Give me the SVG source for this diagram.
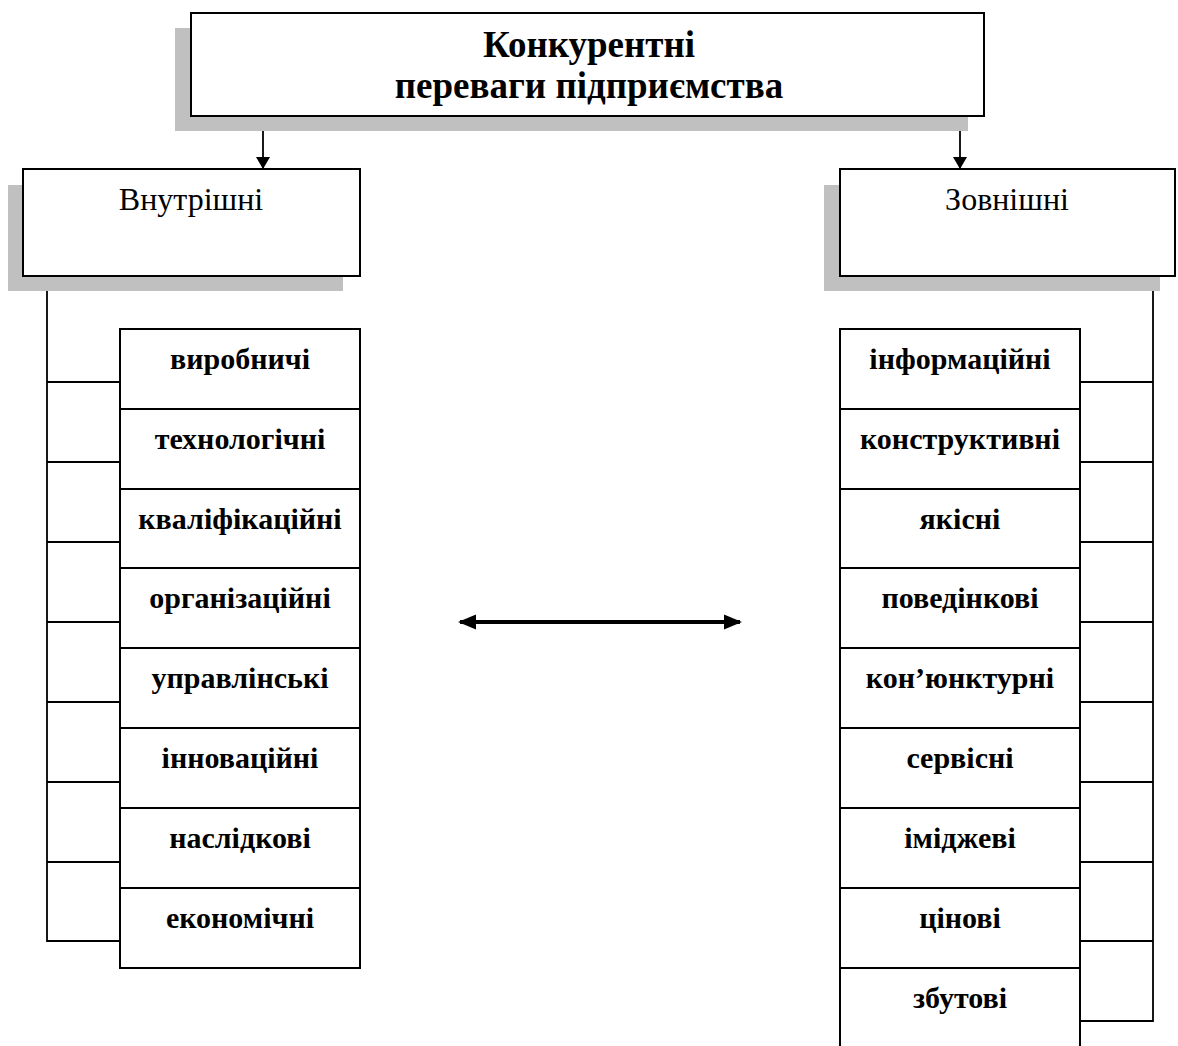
<svg xmlns="http://www.w3.org/2000/svg" width="1178" height="1046" viewBox="0 0 1178 1046">
<defs>
<style>
.shadow{fill:#c0c0c0;stroke:none}
.box{fill:#ffffff;stroke:#000000;stroke-width:2}
.cell{fill:#ffffff;stroke:#000000;stroke-width:2}
.conn{fill:none;stroke:#000000;stroke-width:1.8}
.title{font-family:"Liberation Serif","Times New Roman",serif;font-weight:bold;font-size:37px;text-anchor:middle;fill:#000}
.head{font-family:"Liberation Serif","Times New Roman",serif;font-size:32px;text-anchor:middle;fill:#000}
.item{font-family:"Liberation Serif","Times New Roman",serif;font-weight:bold;font-size:30px;text-anchor:middle;fill:#000}
</style>
<marker id="ah" viewBox="0 0 12 16" refX="12" refY="8" markerWidth="12" markerHeight="16" markerUnits="userSpaceOnUse" orient="auto">
<path d="M0,1 L12,8 L0,15 Z" fill="#000"/>
</marker>
<marker id="ah2" viewBox="0 0 18 16" refX="16" refY="8" markerWidth="18" markerHeight="16" markerUnits="userSpaceOnUse" orient="auto-start-reverse">
<path d="M0,0.5 L18,8 L0,15.5 Z" fill="#000"/>
</marker>
</defs>
<rect width="1178" height="1046" fill="#ffffff"/>

<g id="connectors">
<line class="conn" x1="263" y1="116" x2="263" y2="169" marker-end="url(#ah)"/>
<line class="conn" x1="960" y1="116" x2="960" y2="169" marker-end="url(#ah)"/>
<polyline class="conn" points="47,276 47,941 120,941"/>
<line class="conn" x1="47" y1="382" x2="120" y2="382"/>
<line class="conn" x1="47" y1="462" x2="120" y2="462"/>
<line class="conn" x1="47" y1="542" x2="120" y2="542"/>
<line class="conn" x1="47" y1="622" x2="120" y2="622"/>
<line class="conn" x1="47" y1="702" x2="120" y2="702"/>
<line class="conn" x1="47" y1="782" x2="120" y2="782"/>
<line class="conn" x1="47" y1="862" x2="120" y2="862"/>
<polyline class="conn" points="1153,276 1153,1021 1080,1021"/>
<line class="conn" x1="1080" y1="382" x2="1153" y2="382"/>
<line class="conn" x1="1080" y1="462" x2="1153" y2="462"/>
<line class="conn" x1="1080" y1="542" x2="1153" y2="542"/>
<line class="conn" x1="1080" y1="622" x2="1153" y2="622"/>
<line class="conn" x1="1080" y1="702" x2="1153" y2="702"/>
<line class="conn" x1="1080" y1="782" x2="1153" y2="782"/>
<line class="conn" x1="1080" y1="862" x2="1153" y2="862"/>
<line class="conn" x1="1080" y1="941" x2="1153" y2="941"/>
<line x1="460" y1="622" x2="740" y2="622" stroke="#000" stroke-width="4" marker-start="url(#ah2)" marker-end="url(#ah2)"/>
</g>

<g id="node-main">
<rect class="shadow" x="175" y="28" width="793" height="103"/>
<rect class="box" x="191" y="13" width="793" height="103"/>
<text class="title" x="589" y="57">Конкурентні</text>
<text class="title" x="589" y="98">переваги підприємства</text>
</g>

<g id="node-internal">
<rect class="shadow" x="8" y="185" width="335" height="106"/>
<rect class="box" x="23" y="169" width="337" height="107"/>
<text class="head" x="191" y="210">Внутрішні</text>
</g>

<g id="node-external">
<rect class="shadow" x="824" y="185" width="336" height="106"/>
<rect class="box" x="840" y="169" width="335" height="107"/>
<text class="head" x="1007" y="210">Зовнішні</text>
</g>

<g id="internal-items">
<g id="i1"><rect class="cell" x="120" y="329" width="240" height="80"/><text class="item" x="240" y="369">виробничі</text></g>
<g id="i2"><rect class="cell" x="120" y="409" width="240" height="80"/><text class="item" x="240" y="449">технологічні</text></g>
<g id="i3"><rect class="cell" x="120" y="489" width="240" height="80"/><text class="item" x="240" y="529">кваліфікаційні</text></g>
<g id="i4"><rect class="cell" x="120" y="568" width="240" height="80"/><text class="item" x="240" y="608">організаційні</text></g>
<g id="i5"><rect class="cell" x="120" y="648" width="240" height="80"/><text class="item" x="240" y="688">управлінські</text></g>
<g id="i6"><rect class="cell" x="120" y="728" width="240" height="80"/><text class="item" x="240" y="768">інноваційні</text></g>
<g id="i7"><rect class="cell" x="120" y="808" width="240" height="80"/><text class="item" x="240" y="848">наслідкові</text></g>
<g id="i8"><rect class="cell" x="120" y="888" width="240" height="80"/><text class="item" x="240" y="928">економічні</text></g>
</g>

<g id="external-items">
<g id="e1"><rect class="cell" x="840" y="329" width="240" height="80"/><text class="item" x="960" y="369">інформаційні</text></g>
<g id="e2"><rect class="cell" x="840" y="409" width="240" height="80"/><text class="item" x="960" y="449">конструктивні</text></g>
<g id="e3"><rect class="cell" x="840" y="489" width="240" height="80"/><text class="item" x="960" y="529">якісні</text></g>
<g id="e4"><rect class="cell" x="840" y="568" width="240" height="80"/><text class="item" x="960" y="608">поведінкові</text></g>
<g id="e5"><rect class="cell" x="840" y="648" width="240" height="80"/><text class="item" x="960" y="688">кон’юнктурні</text></g>
<g id="e6"><rect class="cell" x="840" y="728" width="240" height="80"/><text class="item" x="960" y="768">сервісні</text></g>
<g id="e7"><rect class="cell" x="840" y="808" width="240" height="80"/><text class="item" x="960" y="848">іміджеві</text></g>
<g id="e8"><rect class="cell" x="840" y="888" width="240" height="80"/><text class="item" x="960" y="928">цінові</text></g>
<g id="e9"><rect class="cell" x="840" y="968" width="240" height="100"/><text class="item" x="960" y="1008">збутові</text></g>
</g>
</svg>
